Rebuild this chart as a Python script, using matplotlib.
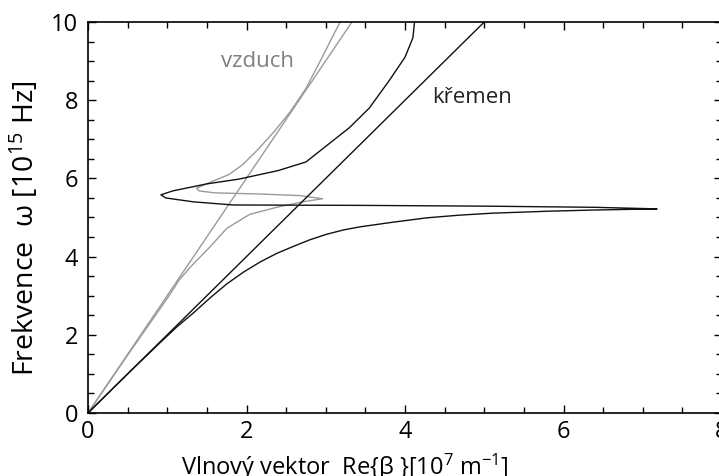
import numpy as np
import matplotlib
matplotlib.use("Agg")
import matplotlib.pyplot as plt
from matplotlib.ticker import MultipleLocator

plt.rcParams['font.family'] = ['Open Sans', 'DejaVu Sans']
plt.rcParams['mathtext.default'] = 'regular'

# svetelne primky (vzduch, kremen)
air_line_b = [0, 3.33]
air_line_w = [0, 10]
quartz_line_b = [0, 5.0]
quartz_line_w = [0, 10]

# disperzni krivka - vzduch (sede)
air_b = [0, 0.5, 1.0, 1.15, 1.3, 1.54, 1.75, 2.04, 2.38, 2.71, 2.96,
         2.67, 2.17, 1.6, 1.4, 1.37, 1.45, 1.6, 1.78, 1.95, 2.15, 2.35,
         2.55, 2.75, 2.93, 3.18]
air_w = [0, 1.48, 2.93, 3.4, 3.75, 4.25, 4.72, 5.08, 5.26, 5.40, 5.48,
         5.56, 5.60, 5.63, 5.68, 5.75, 5.82, 5.95, 6.1, 6.35, 6.75, 7.2,
         7.7, 8.3, 9.0, 10.0]

# disperzni krivka - kremen (cerne)
quartz_b = [0, 0.5, 0.91, 1.12, 1.33, 1.55, 1.75, 1.96, 2.17, 2.38, 2.59,
            2.8, 3.01, 3.22, 3.43, 3.85, 4.27, 4.69, 5.1, 5.8, 6.37, 6.9,
            7.18, 6.4, 5.0, 3.4, 1.83, 1.33, 0.98, 0.92, 1.07, 1.5, 1.9,
            2.4, 2.75, 3.05, 3.3, 3.55, 3.8, 4.0, 4.1, 4.12]
quartz_w = [0, 1.0, 1.8, 2.2, 2.56, 2.96, 3.3, 3.6, 3.86, 4.08, 4.26,
            4.43, 4.57, 4.68, 4.76, 4.88, 4.99, 5.06, 5.11, 5.16, 5.19, 5.21,
            5.22, 5.26, 5.29, 5.31, 5.32, 5.40, 5.50, 5.58, 5.68, 5.86, 5.98,
            6.2, 6.42, 6.9, 7.3, 7.8, 8.5, 9.1, 9.6, 10.0]

fig = plt.figure(figsize=(7.19, 4.76), dpi=100)
ax = fig.add_axes([0.1224, 0.1324, 0.8818, 0.8214])

gray = '#9a9a9a'
ax.plot(air_line_b, air_line_w, color=gray, lw=1.0)
ax.plot(air_b, air_w, color=gray, lw=1.0)
ax.plot(quartz_line_b, quartz_line_w, color='#111111', lw=1.0)
ax.plot(quartz_b, quartz_w, color='#111111', lw=1.0)

ax.text(2.14, 8.98, 'vzduch', color='#808080', fontsize=16, ha='center', va='center')
ax.text(4.84, 8.06, 'křemen', color='#222222', fontsize=16, ha='center', va='center')

ax.set_xlim(0, 8)
ax.set_ylim(0, 10)
ax.xaxis.set_major_locator(MultipleLocator(2))
ax.xaxis.set_minor_locator(MultipleLocator(0.5))
ax.yaxis.set_major_locator(MultipleLocator(2))
ax.yaxis.set_minor_locator(MultipleLocator(0.5))
ax.tick_params(which='both', direction='in', top=True, right=True, width=1.0)
ax.tick_params(which='major', length=6)
ax.tick_params(which='minor', length=4)
ax.tick_params(axis='y', labelsize=17, pad=7)
ax.tick_params(axis='x', labelsize=17, pad=5)
for sp in ax.spines.values():
    sp.set_linewidth(1.2)

ax.set_xlabel('Vlnový vektor  Re{β }[10$^{7}$ m$^{-1}$]', fontsize=17)
ax.xaxis.set_label_coords(0.405, -0.10)
ax.set_ylabel('Frekvence  ω [10$^{15}$ Hz]', fontsize=20.5)
ax.yaxis.set_label_coords(-0.074, 0.473)

fig.savefig('out.png', dpi=100)
